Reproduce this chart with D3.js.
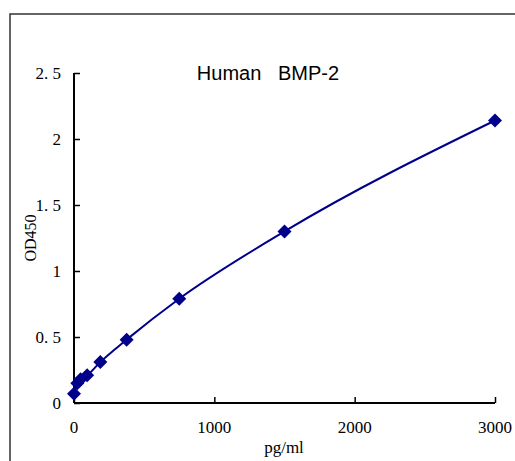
<!DOCTYPE html>
<html>
<head>
<meta charset="utf-8">
<script src="https://cdn.jsdelivr.net/npm/d3@7"></script>
<style>
  body { margin: 0; background: #fff; }
</style>
</head>
<body>
<svg id="canvas" width="515" height="461"></svg>
<script>
const concentrations = [0, 23.44, 46.88, 93.75, 187.5, 375, 750, 1500, 3000];
const odValues = [0.07, 0.15, 0.18, 0.21, 0.31, 0.48, 0.79, 1.30, 2.14];
const xTicks = [0, 1000, 2000, 3000];
const yTicks = [0, 0.5, 1, 1.5, 2, 2.5];
const yTickLabels = ["0", "0. 5", "1", "1. 5", "2", "2. 5"];

let canvas = d3.select("#canvas");

const serif = "'Liberation Serif', 'DejaVu Serif', serif";

// outer frame (only top and left edges show)
canvas.append("path")
  .attr("d", "M10,461 L10,14 L515,14")
  .attr("fill", "none")
  .attr("stroke", "#333")
  .attr("stroke-width", 1.5);

const x = d3.scaleLinear().domain([0, 3000]).range([74, 495]);
const y = d3.scaleLinear().domain([0, 2.5]).range([403, 73]);

// y axis
let yAxis = canvas.append("g").attr("transform", "translate(74,0)")
  .call(d3.axisRight(y).tickValues(yTicks).tickSize(6).tickFormat(""));
yAxis.select(".domain").attr("d", "M0,73V403").attr("stroke-width", 2);
yAxis.selectAll(".tick line").attr("stroke-width", 1.5);

canvas.selectAll(".ylab")
  .data(yTicks)
  .enter()
  .append("text")
  .attr("class", "ylab")
  .attr("x", 61)
  .attr("y", (d) => y(d) + 5.5)
  .attr("text-anchor", "end")
  .style("font-family", serif)
  .style("font-size", "17px")
  .text((d, i) => yTickLabels[i]);

// x axis
let xAxis = canvas.append("g").attr("transform", "translate(0,403)")
  .call(d3.axisTop(x).tickValues(xTicks).tickSize(6).tickFormat(""));
xAxis.select(".domain").attr("d", "M74,0H495").attr("stroke-width", 2);
xAxis.selectAll(".tick line").attr("stroke-width", 1.5);

canvas.selectAll(".xlab")
  .data(xTicks)
  .enter()
  .append("text")
  .attr("class", "xlab")
  .attr("x", (d) => x(d))
  .attr("y", 433)
  .attr("text-anchor", "middle")
  .style("font-family", serif)
  .style("font-size", "17px")
  .text((d) => d);

// axis titles
canvas.append("text")
  .attr("x", 284)
  .attr("y", 453)
  .attr("text-anchor", "middle")
  .style("font-family", serif)
  .style("font-size", "17px")
  .text("pg/ml");

canvas.append("text")
  .attr("transform", "translate(36,238) rotate(-90)")
  .attr("text-anchor", "middle")
  .style("font-family", serif)
  .style("font-size", "16px")
  .text("OD450");

canvas.append("text")
  .attr("x", 268)
  .attr("y", 80)
  .attr("text-anchor", "middle")
  .style("font-family", "'Liberation Sans', Arial, sans-serif")
  .style("font-size", "20px")
  .style("white-space", "pre")
  .attr("xml:space", "preserve")
  .text("Human   BMP-2");

// curve
const points = concentrations.map((c, i) => [c, odValues[i]]);
const line = d3.line()
  .x((d) => x(d[0]))
  .y((d) => y(d[1]))
  .curve(d3.curveMonotoneX);

canvas.append("path")
  .datum(points)
  .attr("d", line)
  .attr("fill", "none")
  .attr("stroke", "#00008b")
  .attr("stroke-width", 2);

canvas.selectAll(".pt")
  .data(points)
  .enter()
  .append("path")
  .attr("class", "pt")
  .attr("transform", (d) => "translate(" + x(d[0]) + "," + y(d[1]) + ")")
  .attr("d", "M0,-7L7,0L0,7L-7,0Z")
  .attr("fill", "#00008b");
</script>
</body>
</html>
